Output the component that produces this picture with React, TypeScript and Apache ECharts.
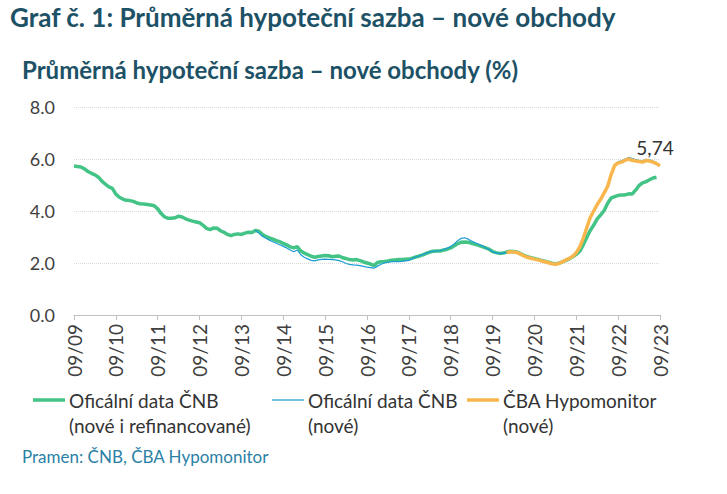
import React, { useEffect, useRef } from "react";
import * as echarts from "echarts";

// Months from 2009-09 to 2023-09
const months: string[] = [];
for (let i = 0; i <= 168; i++) {
  const y = 2009 + Math.floor((8 + i) / 12);
  const m = ((8 + i) % 12) + 1;
  months.push(String(m).padStart(2, "0") + "/" + String(y % 100).padStart(2, "0"));
}

// Oficiální data ČNB (nové i refinancované), 2009-09 .. 2023-08
const cnbAll: number[] = [
  5.73, 5.71, 5.69, 5.62, 5.52, 5.45, 5.39, 5.30, 5.15, 5.03, 4.93, 4.87,
  4.65, 4.53, 4.46, 4.41, 4.40, 4.37, 4.31, 4.28, 4.27, 4.25, 4.23, 4.20,
  4.08, 3.90, 3.77, 3.72, 3.72, 3.74, 3.80, 3.77, 3.70, 3.65, 3.61, 3.58,
  3.55, 3.45, 3.33, 3.28, 3.35, 3.34, 3.24, 3.18, 3.10, 3.05, 3.10, 3.12,
  3.10, 3.15, 3.18, 3.17, 3.25, 3.22, 3.10, 3.02, 2.97, 2.92, 2.86, 2.82,
  2.75, 2.70, 2.62, 2.58, 2.63, 2.46, 2.38, 2.32, 2.26, 2.22, 2.25, 2.27,
  2.29, 2.28, 2.24, 2.26, 2.27, 2.20, 2.17, 2.13, 2.12, 2.13, 2.09, 2.04,
  2.00, 1.96, 1.90, 2.02, 2.05, 2.06, 2.08, 2.11, 2.12, 2.13, 2.13, 2.14,
  2.15, 2.19, 2.23, 2.27, 2.31, 2.37, 2.42, 2.45, 2.46, 2.46, 2.50, 2.53,
  2.58, 2.66, 2.74, 2.80, 2.81, 2.80, 2.76, 2.72, 2.68, 2.63, 2.58, 2.53,
  2.44, 2.40, 2.37, 2.38, 2.42, 2.45, 2.44, 2.42, 2.36, 2.29, 2.24, 2.20,
  2.17, 2.14, 2.10, 2.07, 2.03, 1.99, 1.97, 1.99, 2.04, 2.10, 2.16, 2.24,
  2.33, 2.45, 2.70, 2.98, 3.25, 3.46, 3.70, 3.85, 4.02, 4.30, 4.50, 4.55,
  4.60, 4.62, 4.62, 4.66, 4.65, 4.80, 4.98, 5.08, 5.13, 5.20, 5.27, 5.30,
];

// Oficiální data ČNB (nové), from 2014-01 (index 52) .. 2023-08
const cnbNewStart = 52;
const cnbNew: number[] = [
  3.25, 3.15, 3.03, 2.95, 2.88, 2.82, 2.76, 2.70, 2.64, 2.58, 2.50, 2.43,
  2.50, 2.32, 2.22, 2.16, 2.10, 2.08, 2.12, 2.14, 2.15, 2.14, 2.13, 2.12,
  2.09, 2.05, 1.98, 1.95, 1.93, 1.92, 1.90, 1.87, 1.84, 1.82, 1.80, 1.88,
  1.95, 2.00, 2.03, 2.05, 2.05, 2.05, 2.06, 2.08, 2.10, 2.17, 2.23, 2.28,
  2.32, 2.38, 2.43, 2.46, 2.46, 2.48, 2.52, 2.57, 2.63, 2.73, 2.86, 2.95,
  2.97, 2.92, 2.84, 2.78, 2.72, 2.66, 2.59, 2.52, 2.43, 2.39, 2.37, 2.37,
  2.40, 2.43, 2.42, 2.40, 2.34, 2.27, 2.22, 2.18, 2.15, 2.12, 2.08, 2.05,
  2.01, 1.97, 1.95, 1.98, 2.04, 2.12, 2.18, 2.27, 2.42, 2.64, 2.97, 3.36,
  3.76, 4.01, 4.26, 4.47, 4.72, 4.97, 5.43, 5.79, 5.90, 5.93, 6.00, 6.06,
  6.02, 5.98, 5.95, 5.93, 5.99, 5.97, 5.92, 5.86,
];

// ČBA Hypomonitor (nové), from 2020-01 (index 124) .. 2023-09
const cbaStart = 124;
const cba: number[] = [
  2.40, 2.43, 2.42, 2.40, 2.34, 2.27, 2.22, 2.18, 2.15, 2.12, 2.08, 2.05,
  2.01, 1.97, 1.95, 1.98, 2.04, 2.12, 2.18, 2.26, 2.40, 2.62, 2.95, 3.35,
  3.75, 4.00, 4.25, 4.45, 4.70, 4.95, 5.40, 5.75, 5.85, 5.88, 5.95, 6.00,
  5.95, 5.92, 5.90, 5.88, 5.94, 5.92, 5.88, 5.82, 5.74,
];

const legendNames = [
  "Oficální data ČNB\n(nové i refinancované)",
  "Oficální data ČNB\n(nové)",
  "ČBA Hypomonitor\n(nové)",
];
const yTicks = [0, 2, 4, 6, 8];

const GREEN = "#43C486";
const BLUE = "#1C9AD6";
const ORANGE = "#F8B64C";
const TEAL = "#1D5166";
const FONT = "Lato, 'Open Sans', sans-serif";

function pad(start: number, vals: number[]): (number | null)[] {
  const out: (number | null)[] = [];
  for (let i = 0; i < start; i++) out.push(null);
  return out.concat(vals);
}

export default function App() {
  const ref = useRef<HTMLDivElement>(null);
  useEffect(() => {
    document.body.style.margin = "0";
    const chart = echarts.init(ref.current!, null, { renderer: "svg" });
    const lastIdx = cbaStart + cba.length - 1;
    const lastVal = cba[cba.length - 1];
    const legendX = [33, 272, 467];
    const legendColors = [GREEN, BLUE, ORANGE];
    const legendW = [3.5, 1.2, 3.5];
    const graphics: any[] = [
      {
        type: "text",
        left: 10,
        top: 4,
        style: { text: "Graf č. 1: Průměrná hypoteční sazba – nové obchody", fill: TEAL, font: `bold 26px ${FONT}` },
      },
      {
        type: "text",
        left: 22,
        top: 57,
        style: { text: "Průměrná hypoteční sazba – nové obchody (%)", fill: TEAL, font: `bold 24px ${FONT}` },
      },
      {
        type: "text",
        left: 22,
        top: 448,
        style: { text: "Pramen: ČNB, ČBA Hypomonitor", fill: "#2B7FA6", font: `17px ${FONT}` },
      },
    ];
    legendNames.forEach((name, i) => {
      graphics.push({
        type: "line",
        shape: { x1: legendX[i], y1: 400, x2: legendX[i] + 32, y2: 400 },
        style: { stroke: legendColors[i], lineWidth: legendW[i] },
      });
      graphics.push({
        type: "text",
        x: legendX[i] + 36,
        y: 388,
        style: { text: name, fill: "#333", font: `19px ${FONT}`, lineHeight: 25 },
      });
    });
    chart.setOption({
      animation: false,
      grid: { left: 74, right: 67, top: 107, bottom: 179, containLabel: false },
      xAxis: {
        type: "category",
        data: months,
        boundaryGap: false,
        axisLine: { lineStyle: { color: "#BFBFBF", width: 1 } },
        axisTick: { show: true, interval: 11, length: 5, lineStyle: { color: "#BFBFBF" } },
        axisLabel: {
          interval: 11,
          rotate: 90,
          color: "#404040",
          fontSize: 19,
          fontFamily: FONT,
          margin: 9,
        },
        splitLine: { show: false },
      },
      yAxis: {
        type: "value",
        min: yTicks[0],
        max: yTicks[yTicks.length - 1],
        interval: 2,
        axisLine: { show: false },
        axisTick: { show: false },
        axisLabel: {
          formatter: (v: number) => v.toFixed(1),
          color: "#404040",
          fontSize: 18,
          fontFamily: FONT,
          margin: 19,
        },
        splitLine: { lineStyle: { color: "#D9D9D9", type: "dotted", width: 1 } },
      },
      series: [
        {
          name: legendNames[0],
          type: "line",
          data: cnbAll,
          showSymbol: false,
          symbol: "none",
          lineStyle: { color: GREEN, width: 3.5 },
          itemStyle: { color: GREEN },
          z: 2,
        },
        {
          name: legendNames[1],
          type: "line",
          data: pad(cnbNewStart, cnbNew),
          showSymbol: false,
          symbol: "none",
          lineStyle: { color: BLUE, width: 1.2 },
          itemStyle: { color: BLUE },
          z: 3,
        },
        {
          name: legendNames[2],
          type: "line",
          data: pad(cbaStart, cba),
          showSymbol: false,
          symbol: "none",
          lineStyle: { color: ORANGE, width: 3.5 },
          itemStyle: { color: ORANGE },
          z: 4,
          markPoint: {
            symbol: "circle",
            symbolSize: 1,
            itemStyle: { color: "rgba(0,0,0,0)" },
            label: {
              show: true,
              position: "top",
              distance: 8,
              offset: [-5, 0],
              color: "#333",
              fontSize: 19,
              fontFamily: FONT,
              formatter: lastVal.toFixed(2).replace(".", ","),
            },
            data: [{ coord: [lastIdx, lastVal] }],
          },
        },
      ],
      graphic: graphics,
    });
    return () => chart.dispose();
  }, []);
  return <div ref={ref} style={{ width: 727, height: 494, background: "#fff" }} />;
}
